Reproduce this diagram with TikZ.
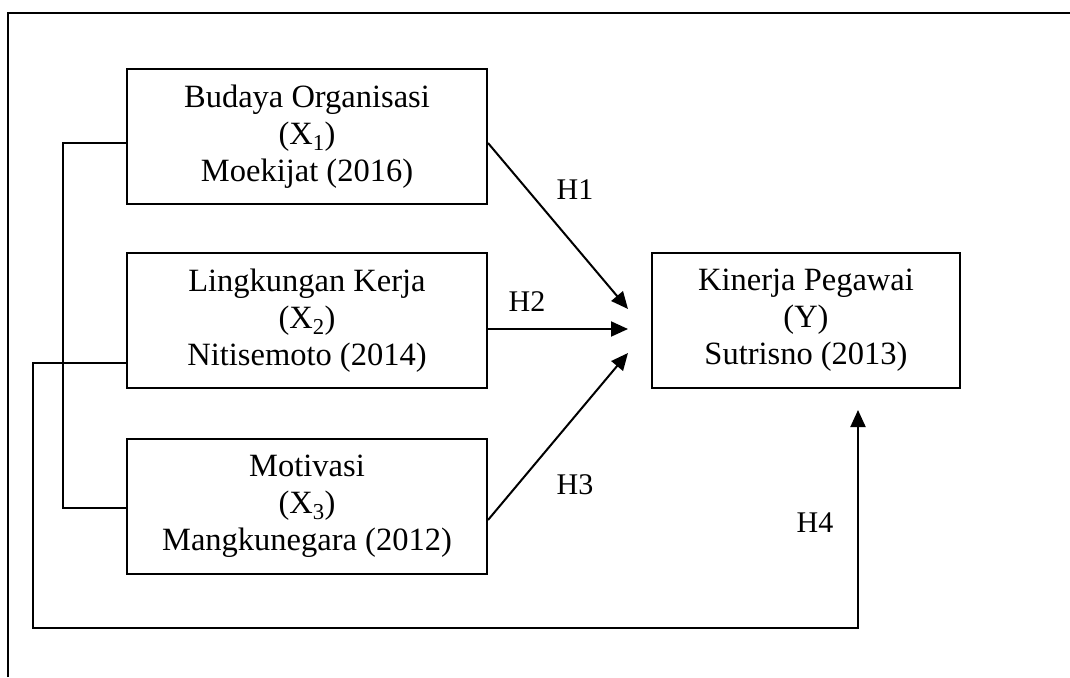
\documentclass[tikz,border=0pt]{standalone}
\usepackage{fontspec}
\setmainfont{Liberation Serif}
\usepackage{tikz}
\usetikzlibrary{arrows.meta}

\tikzset{
    varbox/.style={draw, line width=2pt, align=center, minimum height=135pt,
        font=\fontsize{32.5}{37}\selectfont},
    hlabel/.style={font=\fontsize{30}{34}\selectfont},
    link/.style={line width=2pt},
    hyp/.style={line width=2pt, -{Triangle[length=17pt,width=15pt]}}
}

\begin{document}
\begin{tikzpicture}[x=1pt, y=-1pt]
            \useasboundingbox (0, 0) rectangle (1070, 677);
            \draw[link] (8, 677) -- (8, 13) -- (1070, 13);

            \node[varbox, minimum width=360pt] (budaya) at (307, 136.5) {Budaya Organisasi\\(X\textsubscript{1})\\Moekijat (2016)};
            \node[varbox, minimum width=360pt] (lingkungan) at (307, 320.5) {Lingkungan Kerja\\(X\textsubscript{2})\\Nitisemoto (2014)};
            \node[varbox, minimum width=360pt] (motivasi) at (307, 506) {Motivasi\\(X\textsubscript{3})\\Mangkunegara (2012)};
            \node[varbox, minimum width=308pt] (kinerja) at (806, 320.5) {Kinerja Pegawai\\(Y)\\Sutrisno (2013)};

            \coordinate (tipA) at (628, 309);
            \coordinate (tipB) at (628, 329);
            \coordinate (tipC) at (628, 353);
            \coordinate (tipD) at (858, 410);

            \draw[hyp] (budaya.east |- 0, 143) -- (tipA);
            \draw[hyp] (lingkungan.east |- 0, 329) -- (tipB);
            \draw[hyp] (motivasi.east |- 0, 520) -- (tipC);

            \draw[link] (budaya.west |- 0, 143) -- (63, 143) -- (63, 508) -- (motivasi.west |- 0, 508);
            \draw[hyp] (lingkungan.west |- 0, 363) -- (33, 363) -- (33, 628) -- (858, 628) -- (tipD);

            \node[hlabel] (h1) at (575, 190) {H1};
            \node[hlabel] (h2) at (527, 302) {H2};
            \node[hlabel] (h3) at (575, 485) {H3};
            \node[hlabel] (h4) at (815, 523) {H4};
        \end{tikzpicture}
\end{document}
